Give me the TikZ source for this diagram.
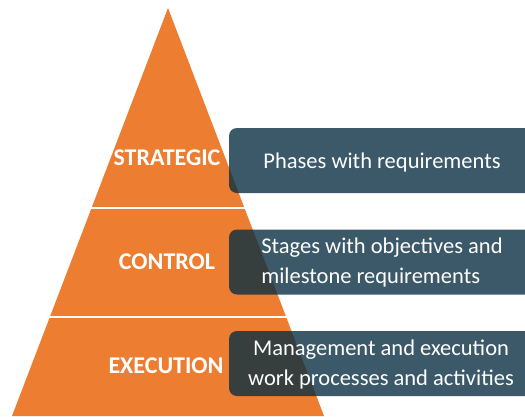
\documentclass[tikz,border=0pt]{standalone}
\usepackage{fontspec}
\setmainfont{Carlito}
\definecolor{pyr}{HTML}{ED7D31}
\definecolor{slate}{HTML}{0A2F42}
\begin{document}
\begin{tikzpicture}[x=1pt,y=-1pt,
  lvl/.style={text=white,font=\fontsize{24}{26}\selectfont\bfseries,inner sep=0pt},
  box/.style={fill=slate,fill opacity=0.8,rounded corners=8pt,draw=none,minimum width=311pt,minimum height=65pt,inner sep=0pt},
  boxtxt/.style={text=white,font=\fontsize{22.5}{30}\selectfont,inner sep=0pt}]
\useasboundingbox (0,0) rectangle (525,416);
% pyramid
\fill[pyr] (168,8) -- (324,416) -- (12,416) -- cycle;
\draw[white,line width=2.5pt] (0,208) -- (340,208);
\draw[white,line width=2.5pt] (0,317) -- (340,317);
% level labels
\node[lvl] (s) at (167,158) {STRATEGIC};
\node[lvl] (c) at (167,262) {CONTROL};
\node[lvl] (e) at (166,366) {EXECUTION};
% boxes
\node[box] (b1) at (384.5,160.5) {};
\node[box] (b2) at (384.5,262) {};
\node[box] (b3) at (384.5,363.5) {};
\node[boxtxt] (t1) at (382,162) {Phases with requirements};
\node[boxtxt,align=left] (t2) at (382,262) {Stages with objectives and\\milestone requirements};
\node[boxtxt,align=center] (t3) at (381,364) {Management and execution\\work processes and activities};
\end{tikzpicture}
\end{document}
